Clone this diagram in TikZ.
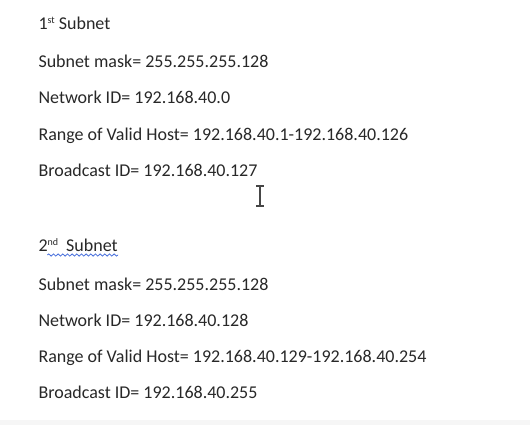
\documentclass[tikz,border=0pt]{standalone}
\usepackage{fontspec}
\setmainfont{Carlito}
\usetikzlibrary{decorations.pathmorphing}

\newcommand{\ordsup}[1]{\raisebox{4.5pt}{\fontsize{7.5}{8}\selectfont #1}}

\tikzset{every picture/.style={line width=0.75pt}}
\tikzset{line/.style={anchor=base west, inner sep=0pt, text={rgb, 255:red, 40; green, 40; blue, 40 }, font=\fontsize{13.5}{16}\selectfont}}

\begin{document}
\begin{tikzpicture}[x=0.75pt,y=0.75pt,yscale=-1,xscale=1]
\useasboundingbox (0,0) rectangle (530,425);
\fill [white] (0,0) rectangle (530,425);
%Bottom band
\fill [color={rgb, 255:red, 246; green, 246; blue, 246 }] (0,420) rectangle (530,425);

%1st subnet
\node [line] (sub1) at (38,29) {1\ordsup{st} Subnet} ;
\node [line] (mask1) at (38,67) {Subnet mask= 255.255.255.128} ;
\node [line] (net1) at (38,103) {Network ID= 192.168.40.0} ;
\node [line] (range1) at (38,140) {Range of Valid Host= 192.168.40.1-192.168.40.126} ;
\node [line] (bcast1) at (38,176) {Broadcast ID= 192.168.40.127} ;

%Cursor
\draw [color={rgb, 255:red, 70; green, 70; blue, 70 }, line width=0.9]   (260,187) -- (260,205) ;
\draw [color={rgb, 255:red, 70; green, 70; blue, 70 }, line width=0.9]   (256,186) -- (264,186) ;
\draw [color={rgb, 255:red, 70; green, 70; blue, 70 }, line width=0.9]   (256,206) -- (264,206) ;

%2nd subnet
\node [line] (sub2) at (38,251) {2\ordsup{nd}\hspace{3pt} Subnet} ;
\draw [color={rgb, 255:red, 70; green, 110; blue, 220 }, line width=0.6, decorate, decoration={snake, amplitude=0.8, segment length=3.5}]   ([xshift=7pt,yshift=3pt]sub2.base west) -- ([yshift=3pt]sub2.base east) ;
\node [line] (mask2) at (38,290) {Subnet mask= 255.255.255.128} ;
\node [line] (net2) at (38,326) {Network ID= 192.168.40.128} ;
\node [line] (range2) at (38,362) {Range of Valid Host= 192.168.40.129-192.168.40.254} ;
\node [line] (bcast2) at (38,398) {Broadcast ID= 192.168.40.255} ;
\end{tikzpicture}
\end{document}
